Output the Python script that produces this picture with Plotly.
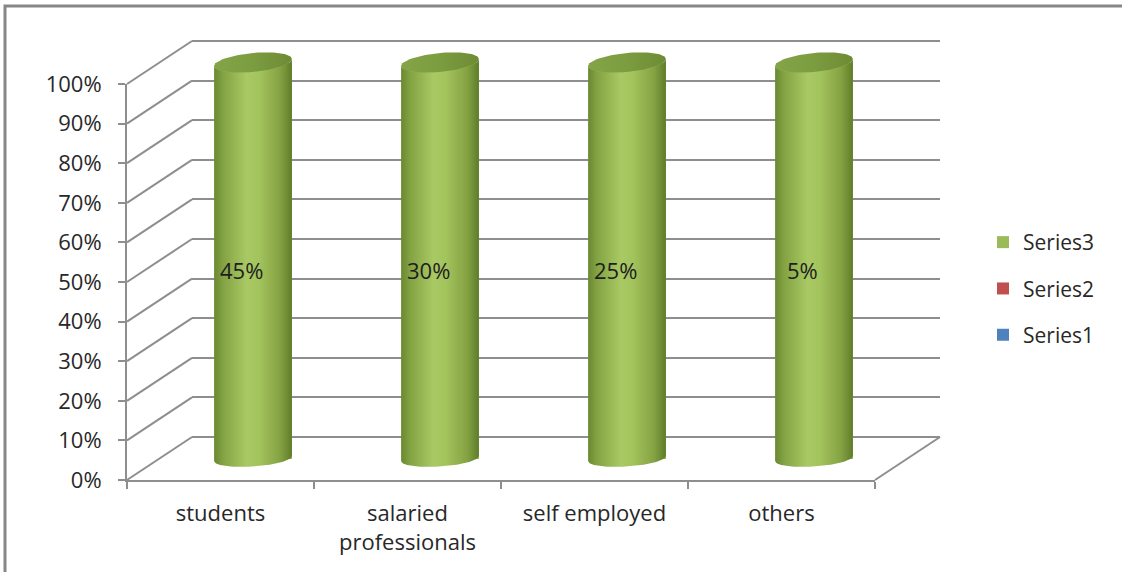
import numpy as np
import plotly.graph_objects as go

# ---- data -------------------------------------------------------------
categories = ["students", "salaried professionals", "self employed", "others"]
category_labels = ["students", "salaried<br>professionals", "self employed", "others"]
series1 = [0, 0, 0, 0]
series2 = [0, 0, 0, 0]
series3 = [45, 30, 25, 5]
y_ticks = [0.0, 0.1, 0.2, 0.3, 0.4, 0.5, 0.6, 0.7, 0.8, 0.9, 1.0]

# ---- page geometry (pixels) --------------------------------------------
W_PX, H_PX = 1122, 572
ML, MR, MT, MB = 127, 182, 34, 92
PW = W_PX - ML - MR          # paper width
PH = H_PX - MT - MB          # paper height
FRONT_W, FRONT_H = 748, 396  # front plane size
DEPTH_X, DEPTH_Y = 65, 43    # offset from front plane to back wall
MID_LO, MID_HI = -0.03, 1.04 # mid-plane range, leaves room for the end caps
BACK_PAD = 0.01              # keeps the 0% and 100% wall lines inside the range

GRID = "#8e8e8e"
TEXT = "#282828"
FONT = "Open Sans"
FS = 22

idx = np.arange(len(categories))
s1 = np.array(series1, float)
s2 = np.array(series2, float)
s3 = np.array(series3, float)
total = s1 + s2 + s3
share1, share2, share3 = s1 / total, s2 / total, s3 / total

fx = lambda px: px / PW
fy = lambda px: px / PH

fig = go.Figure()

# empty traces so the back-wall and front-axis subplots are built
fig.add_trace(go.Scatter(x=[], y=[], xaxis="x", yaxis="y", showlegend=False, hoverinfo="skip"))
fig.add_trace(go.Scatter(x=[], y=[], xaxis="x3", yaxis="y3", showlegend=False, hoverinfo="skip"))

# stacked 100% columns on the mid-depth plane
BAR_W = 0.416
for name, share, color, rank in [("Series1", share1, "#4f81bd", 3),
                                 ("Series2", share2, "#c0504d", 2),
                                 ("Series3", share3, "#9bbb59", 1)]:
    fig.add_trace(go.Bar(
        x=idx, y=share, name=name, width=BAR_W, marker=dict(color=color, line=dict(width=0)),
        xaxis="x2", yaxis="y2", legendgroup=name, legendrank=rank, hoverinfo="skip",
    ))

# cylinder shading for Series3 columns
a = BAR_W / 2
b_top, k_top = 9.5 / FRONT_H, 3.5 / FRONT_H
b_bot, k_bot = 8.0 / FRONT_H, 2.5 / FRONT_H
body_scale = [[0.0, "#6a8831"], [0.12, "#84a444"], [0.42, "#a9c964"],
              [0.58, "#a3c35d"], [0.85, "#84a242"], [1.0, "#5f7d2a"]]
cap_scale = [[0.0, "#84a448"], [0.5, "#7c9c40"], [1.0, "#6d8b34"]]
for i in idx:
    base = share1[i] + share2[i]
    top = base + share3[i]
    t_lo = np.linspace(np.pi, 2 * np.pi, 40)
    xb = i + a * np.cos(t_lo)
    yb = base + b_bot * np.sin(t_lo) + k_bot * np.cos(t_lo)
    t_hi = t_lo[::-1]
    xt = i + a * np.cos(t_hi)
    yt = top + b_top * np.sin(t_hi) + k_top * np.cos(t_hi)
    fig.add_trace(go.Scatter(
        x=np.concatenate([xb, xt]), y=np.concatenate([yb, yt]),
        mode="lines", line=dict(width=0), fill="toself",
        fillgradient=dict(type="horizontal", colorscale=body_scale),
        xaxis="x2", yaxis="y2", showlegend=False, hoverinfo="skip",
    ))
    t = np.linspace(0, 2 * np.pi, 80)
    fig.add_trace(go.Scatter(
        x=i + a * np.cos(t), y=top + b_top * np.sin(t) + k_top * np.cos(t),
        mode="lines", line=dict(width=0), fill="toself",
        fillgradient=dict(type="horizontal", colorscale=cap_scale),
        xaxis="x2", yaxis="y2", showlegend=False, hoverinfo="skip",
    ))

# value labels
annotations = []
for i in idx:
    annotations.append(dict(
        x=i, y=share1[i] + share2[i] + share3[i] / 2, xref="x2", yref="y2",
        text=f"{series3[i]}%", showarrow=False, xshift=-12, yshift=-10,
        font=dict(family=FONT, size=FS, color="#1e1e1e"),
    ))

# side-wall and floor edges joining the front axis to the back wall
shapes = []
for v in y_ticks:
    shapes.append(dict(type="line", xref="paper", yref="paper",
                       x0=0, y0=fy(v * FRONT_H), x1=fx(DEPTH_X), y1=fy(DEPTH_Y + v * FRONT_H),
                       line=dict(color=GRID, width=2), layer="below"))
shapes.append(dict(type="line", xref="paper", yref="paper",
                   x0=fx(FRONT_W), y0=0, x1=fx(FRONT_W + DEPTH_X), y1=fy(DEPTH_Y),
                   line=dict(color=GRID, width=2), layer="below"))
# chart frame
shapes.append(dict(type="rect", xref="paper", yref="paper",
                   x0=fx(5 - ML), y0=fy(-(H_PX + 20 - (H_PX - MB))), x1=fx(W_PX + 20 - ML), y1=fy(H_PX - MB - 6),
                   line=dict(color="#878787", width=3), fillcolor="rgba(0,0,0,0)"))

mid_px0 = DEPTH_Y / 2 + MID_LO * FRONT_H
mid_px1 = DEPTH_Y / 2 + MID_HI * FRONT_H
back_px0 = DEPTH_Y - BACK_PAD * FRONT_H
back_px1 = DEPTH_Y + (1 + BACK_PAD) * FRONT_H

fig.update_layout(
    width=W_PX, height=H_PX,
    margin=dict(l=ML, r=MR, t=MT, b=MB, pad=0),
    paper_bgcolor="white", plot_bgcolor="rgba(0,0,0,0)",
    barmode="stack", bargap=0,
    font=dict(family=FONT, size=FS, color=TEXT),
    showlegend=True,
    legend=dict(x=fx(983 - ML), y=fy(H_PX - MB - 222), xanchor="left", yanchor="top",
                traceorder="grouped", tracegroupgap=16,
                font=dict(family=FONT, size=21, color=TEXT), bgcolor="rgba(0,0,0,0)"),
    # back wall
    xaxis=dict(domain=[fx(DEPTH_X), fx(FRONT_W + DEPTH_X)], anchor="y", range=[0, 1], showgrid=False,
               zeroline=False, showline=False, showticklabels=False, ticks=""),
    yaxis=dict(domain=[fy(back_px0), fy(back_px1)], anchor="x", range=[-BACK_PAD, 1 + BACK_PAD],
               tickvals=y_ticks, showgrid=True, gridcolor=GRID, gridwidth=2, zeroline=False,
               showline=False, showticklabels=False, ticks=""),
    # mid-depth plane carrying the columns
    xaxis2=dict(domain=[fx(DEPTH_X / 2), fx(FRONT_W + DEPTH_X / 2)], anchor="y2",
                range=[-0.5, 3.5], visible=False),
    yaxis2=dict(domain=[fy(mid_px0), fy(mid_px1)], anchor="x2",
                range=[MID_LO, MID_HI], visible=False),
    # front axes with ticks and labels
    xaxis3=dict(domain=[0, fx(FRONT_W)], anchor="y3", range=[-0.5, 3.5],
                tickvals=list(idx), ticktext=category_labels, ticks="",
                showline=True, linecolor=GRID, linewidth=2, showgrid=False, zeroline=False,
                ticklabelstandoff=13,
                minor=dict(tickvals=[-0.5, 0.5, 1.5, 2.5, 3.5], ticks="outside",
                           ticklen=7, tickcolor=GRID, tickwidth=2, showgrid=False)),
    yaxis3=dict(domain=[0, fy(FRONT_H)], anchor="x3", range=[0, 1], tickvals=y_ticks,
                tickformat=".0%", ticks="outside", ticklen=7, tickcolor=GRID, tickwidth=2,
                showline=True, linecolor=GRID, linewidth=2, showgrid=False, zeroline=False,
                ticklabelstandoff=12),
    annotations=annotations,
    shapes=shapes,
)

fig.write_html("out.html")
